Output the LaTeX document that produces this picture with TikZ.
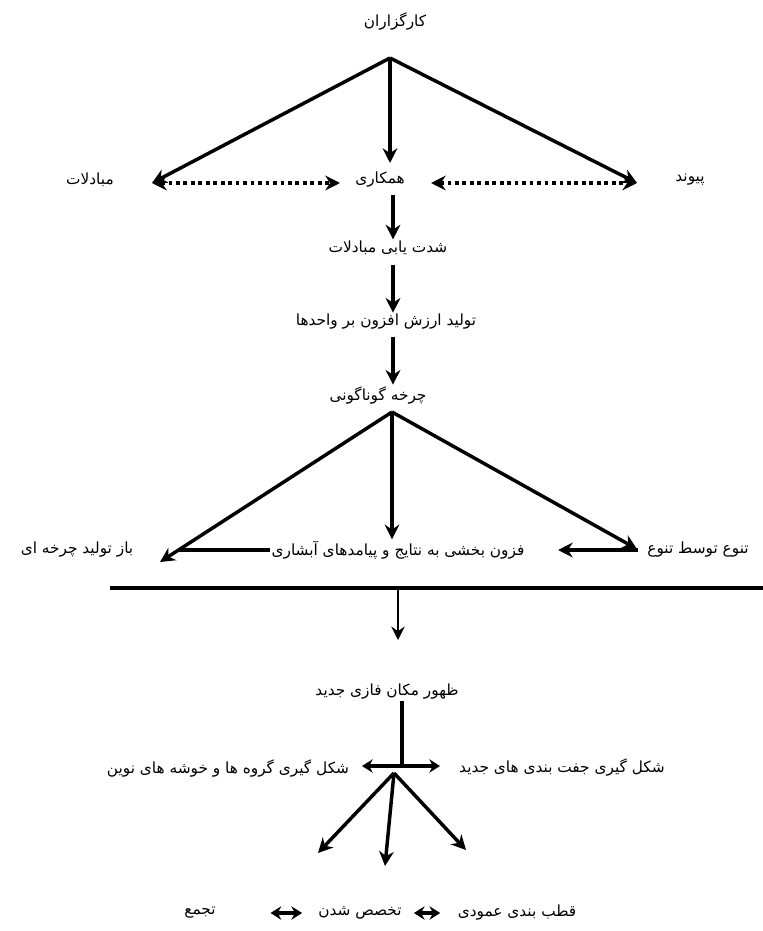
\documentclass[tikz,border=0pt]{standalone}
\usepackage{fontspec}
\newfontfamily\farsifont[Script=Arabic]{DejaVu Sans}
\TeXXeTstate=1
\usetikzlibrary{arrows.meta}
\newcommand{\fatext}[1]{\beginR #1\endR}

\begin{document}
\begin{tikzpicture}[
            x=0.75pt,
            y=-0.75pt,
            term/.style={
                inner sep=1pt,
                font=\farsifont\fontsize{11.5}{13}\selectfont
            },
            arr/.style={
                line width=2.6pt,
                -{Stealth[length=11pt,width=11pt]}
            },
            twoarr/.style={
                line width=2.8pt,
                {Stealth[length=8pt,width=10pt]}-{Stealth[length=8pt,width=10pt]}
            },
            dotarr/.style={
                line width=2.8pt,
                dash pattern=on 2.8pt off 2.8pt,
                {Stealth[length=11pt,width=11pt]}-{Stealth[length=11pt,width=11pt]}
            }
        ]
            \useasboundingbox (0,0) rectangle (763,931);
            % nodes
            \node[term] (karg)  at (395,22)  {\fatext{کارگزاران}};
            \node[term] (mobad) at (90,180)  {\fatext{مبادلات}};
            \node[term] (hamk)  at (380,180) {\fatext{همکاری}};
            \node[term] (peyv)  at (690,180) {\fatext{پیوند}};
            \node[term] (shed)  at (388,248) {\fatext{شدت یابی مبادلات}};
            \node[term] (tolid) at (386,322) {\fatext{تولید ارزش افزون بر واحدها}};
            \node[term] (charkh) at (378,395) {\fatext{چرخه گوناگونی}};
            \node[term] (baz)   at (77,550)  {\fatext{باز تولید چرخه ای}};
            \node[term] (fazun) at (398,550) {\fatext{فزون بخشی به نتایج و پیامدهای آبشاری}};
            \node[term] (tanav) at (698,550) {\fatext{تنوع توسط تنوع}};
            \node[term] (zohur) at (387,692) {\fatext{ظهور مکان فازی جدید}};
            \node[term] (goruh) at (228,768) {\fatext{شکل گیری گروه ها و خوشه های نوین}};
            \node[term] (joft)  at (562,767) {\fatext{شکل گیری جفت بندی های جدید}};
            \node[term] (ghotb) at (517,913) {\fatext{قطب بندی عمودی}};
            \node[term] (takh)  at (360,913) {\fatext{تخصص شدن}};
            \node[term] (tajam) at (200,913) {\fatext{تجمع}};
            % points
            \coordinate (axis)  at (393,0);
            \coordinate (top)   at (390,58);
            \coordinate (topL)  at (152,183);
            \coordinate (topM)  at (390,163);
            \coordinate (topR)  at (637,183);
            \coordinate (hamkL) at (340,183);
            \coordinate (hamkR) at (431,183);
            \coordinate (mid)   at (392,412);
            \coordinate (midL)  at (160,562);
            \coordinate (midR)  at (637,549);
            \coordinate (join)  at (179,550);
            \coordinate (ruleL) at (110,588);
            \coordinate (ruleR) at (763,588);
            \coordinate (drop)  at (398,640);
            \coordinate (cross) at (402,766);
            \coordinate (crossL) at (362,766);
            \coordinate (crossR) at (440,766);
            \coordinate (hub)   at (394,773);
            \coordinate (hubL)  at (318,853);
            \coordinate (hubM)  at (385,866);
            \coordinate (hubR)  at (466,850);
            % connectors
            \draw[arr] (top) -- (topL);
            \draw[arr] (top) -- (topM);
            \draw[arr] (top) -- (topR);
            \draw[dotarr] (topL) -- (hamkL);
            \draw[dotarr] (hamkR) -- (topR);
            \draw[arr] (hamk.south -| axis) ++(0,-4pt) -- (shed.north -| axis);
            \draw[arr] (shed.south -| axis) ++(0,-6pt) -- (tolid.north -| axis);
            \draw[arr] (tolid.south -| axis) ++(0,-4pt) -- (charkh.north -| axis);
            \draw[arr] (mid) -- (midL);
            \draw[arr] (mid) -- (fazun.north -| mid);
            \draw[arr] (mid) -- (midR);
            \draw[line width=2.6pt] (fazun.west) -- (join);
            \draw[arr, shorten >=24pt] ([xshift=-6pt]tanav.west) -- (fazun.east);
            \draw[line width=3.2pt] (ruleL) -- (ruleR);
            \draw[line width=1.8pt,-{Stealth[length=10pt,width=10pt]}] (ruleL -| drop) -- (drop);
            \draw[line width=2.8pt] (zohur.south -| cross) -- (cross);
            \draw[twoarr] (crossL) -- (crossR);
            \draw[arr] (hub) -- (hubL);
            \draw[arr] (hub) -- (hubM);
            \draw[arr] (hub) -- (hubR);
            \draw[twoarr] ([xshift=-12pt]ghotb.west) -- ([xshift=8pt]takh.east);
            \draw[twoarr] ([xshift=-11pt]takh.west) -- ([xshift=40pt]tajam.east);
        \end{tikzpicture}
\end{document}
